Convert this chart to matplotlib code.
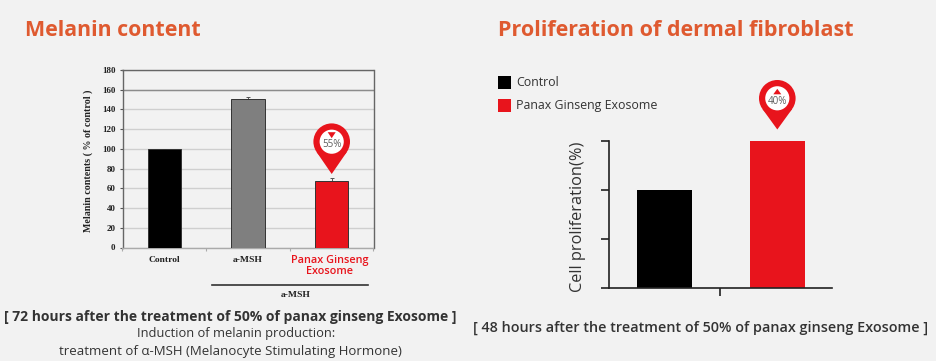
"""
Melanin content and dermal fibroblast proliferation bar charts.
"""


import math

from matplotlib.patches import Circle, Polygon
import matplotlib.pyplot as plt


WIDTH = 936
HEIGHT = 361

BACKGROUND = '#f2f2f2'
ORANGE = '#df5a30'
RED = '#e8141c'
TEXT = '#333333'

MELANIN_CATEGORIES = ['Control', 'a-MSH', 'Panax Ginseng\nExosome']
MELANIN_VALUES = [100, 151, 67]
MELANIN_ERRORS = [0, 2, 3]
MELANIN_COLORS = ['#000000', '#7f7f7f', RED]
MELANIN_TICKS = list(range(0, 181, 20))

PROLIFERATION_LABELS = ['Control', 'Panax Ginseng Exosome']
PROLIFERATION_VALUES = [2, 3]
PROLIFERATION_COLORS = ['#000000', RED]
PROLIFERATION_TICKS = [0, 1, 2, 3]


plt.rcParams['font.family'] = ['Open Sans', 'DejaVu Sans']


def main():

    figure = plt.figure(figsize=(WIDTH / 100, HEIGHT / 100), dpi=100)
    figure.patch.set_facecolor(BACKGROUND)

    overlay = figure.add_axes([0, 0, 1, 1])
    overlay.set_xlim(0, WIDTH)
    overlay.set_ylim(HEIGHT, 0)
    overlay.axis('off')
    overlay.set_zorder(5)

    plot_melanin(figure, overlay)
    plot_proliferation(figure, overlay)
    add_texts(overlay)

    figure.savefig('out.png', dpi=100, facecolor=BACKGROUND)


def add_axes(figure, left, top, right, bottom):
    return figure.add_axes([
        left / WIDTH, 1 - bottom / HEIGHT,
        (right - left) / WIDTH, (bottom - top) / HEIGHT])


def plot_melanin(figure, overlay):

    axes = add_axes(figure, 122.5, 70, 373.5, 247.5)
    axes.set_facecolor(BACKGROUND)
    axes.set_axisbelow(True)

    positions = range(len(MELANIN_VALUES))

    axes.bar(
        positions, MELANIN_VALUES, width=0.4, color=MELANIN_COLORS,
        edgecolor='#333333', linewidth=0.7, zorder=3)
    axes.errorbar(
        positions, MELANIN_VALUES,
        yerr=[[0] * len(MELANIN_ERRORS), MELANIN_ERRORS], fmt='none',
        ecolor='#555555', elinewidth=0.7, capsize=1.5, capthick=0.7, zorder=2)

    axes.set_xlim(-0.5, 2.5)
    axes.set_ylim(0, 180)
    axes.set_yticks(MELANIN_TICKS)
    axes.set_xticks([-0.5, 0.5, 1.5, 2.5], labels=[])
    axes.grid(axis='y', color='#cfcfcf', linewidth=1)
    axes.axhline(160, color='#8c8c8c', linewidth=1, zorder=1)
    axes.tick_params(axis='x', length=2, color='#aaaaaa')
    axes.tick_params(
        axis='y', length=2, color='#555555', pad=3, labelsize=6.5)

    for label in axes.get_yticklabels():
        label.set_family('Liberation Serif')
        label.set_fontweight('bold')
        label.set_color('#222222')

    for spine in axes.spines.values():
        spine.set_color('#666666')
        spine.set_linewidth(1)
    axes.spines['bottom'].set_color('#aaaaaa')

    overlay.text(
        88, 161, 'Melanin contents ( % of control )', rotation=90,
        ha='center', va='center', family='Liberation Serif',
        fontweight='bold', fontsize=7.2, color='#222222')

    for position in (0, 1):
        axes.text(
            position, -12.5, MELANIN_CATEGORIES[position], ha='center',
            va='center', family='Liberation Serif', fontweight='bold',
            fontsize=6.8, color='#222222', clip_on=False)

    axes.text(
        1.98, -7.5, MELANIN_CATEGORIES[2], ha='center', va='top', color=RED,
        fontsize=7.8, fontweight='semibold', linespacing=1.05, clip_on=False)

    overlay.plot([212, 367.5], [285, 285], color='#333333', linewidth=1.2)
    overlay.text(
        296, 295, 'a-MSH', ha='center', va='center',
        family='Liberation Serif', fontweight='bold', fontsize=6.8,
        color='#222222')

    add_pin(overlay, 331.7, 141.7, 18.3, 174, '55%', True)


def plot_proliferation(figure, overlay):

    axes = add_axes(figure, 609, 140.5, 832, 287.5)
    axes.set_facecolor('none')

    axes.bar(
        [0, 1], PROLIFERATION_VALUES, width=0.484,
        color=PROLIFERATION_COLORS, zorder=3)

    axes.set_xlim(-0.49, 1.483)
    axes.set_ylim(0, 3)
    axes.set_yticks(PROLIFERATION_TICKS, labels=[])
    axes.set_xticks([0.49], labels=[])
    axes.tick_params(length=5.5, width=1.2, color='#222222')

    for name in ('top', 'right'):
        axes.spines[name].set_visible(False)
    for name in ('left', 'bottom'):
        axes.spines[name].set_linewidth(1.2)
        axes.spines[name].set_color('#222222')
        axes.spines[name].set_zorder(4)

    overlay.text(
        578, 217, 'Cell proliferation(%)', rotation=90, ha='center',
        va='center', fontsize=11.8, color=TEXT)

    for y, label, color in zip(
            (82, 105), PROLIFERATION_LABELS, PROLIFERATION_COLORS):
        overlay.add_patch(plt.Rectangle(
            (498, y - 6.5), 13, 13, color=color, linewidth=0))
        overlay.text(
            516.5, y, label, ha='left', va='center', fontsize=8.9, color=TEXT)

    add_pin(overlay, 777.3, 98.3, 18.3, 129.5, '40%', False)


def add_pin(overlay, x, y, radius, tip_y, label, down):

    # The pin sides are tangent to the circle.
    distance = tip_y - y
    dx = radius * math.sqrt(1 - (radius / distance) ** 2)
    dy = radius * radius / distance
    overlay.add_patch(Polygon(
        [(x - dx, y + dy), (x + dx, y + dy), (x, tip_y)],
        color=RED, linewidth=0))
    overlay.add_patch(Circle((x, y), radius, color=RED, linewidth=0))
    overlay.add_patch(Circle((x, y), radius * 0.66, color='white', linewidth=0))

    if down:
        triangle = [(x - 4, y - 9.5), (x + 4, y - 9.5), (x, y - 3.5)]
    else:
        triangle = [(x - 4, y - 4), (x + 4, y - 4), (x, y - 9.5)]
    overlay.add_patch(Polygon(triangle, color=RED, linewidth=0))

    overlay.text(
        x, y + 3, label, ha='center', va='center', fontsize=7,
        color='#5f5f5f')


def add_texts(overlay):

    overlay.text(
        25, 30, 'Melanin content', ha='left', va='center', fontsize=15.4,
        fontweight='bold', color=ORANGE)
    overlay.text(
        498, 30, 'Proliferation of dermal fibroblast', ha='left',
        va='center', fontsize=15.5, fontweight='bold', color=ORANGE)

    overlay.text(
        230.5, 317.5, '[ 72 hours after the treatment of 50% of panax '
        'ginseng Exosome ]', ha='center', va='center', fontsize=10,
        fontweight='bold', color=TEXT)
    overlay.text(
        236.5, 334, 'Induction of melanin production:', ha='center',
        va='center', fontsize=9.3, color=TEXT)
    overlay.text(
        230.5, 351.5, 'treatment of α-MSH (Melanocyte Stimulating Hormone)',
        ha='center', va='center', fontsize=9.5, color=TEXT)

    overlay.text(
        701, 327.5, '[ 48 hours after the treatment of 50% of panax ginseng '
        'Exosome ]', ha='center', va='center', fontsize=10.35,
        fontweight='semibold', color=TEXT)


if __name__ == '__main__':
    main()
